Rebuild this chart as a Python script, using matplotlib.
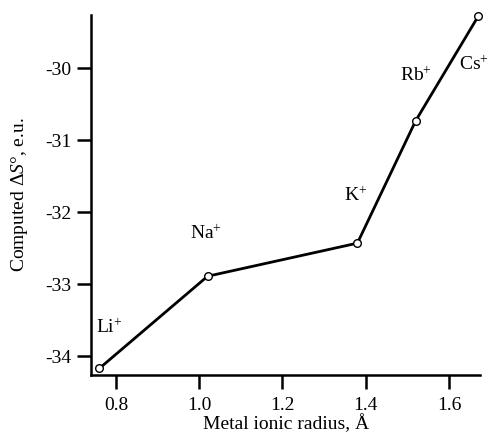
import matplotlib
matplotlib.use("Agg")
import matplotlib.pyplot as plt

plt.rcParams['font.family'] = ['Liberation Serif', 'DejaVu Serif']
plt.rcParams['mathtext.fontset'] = 'custom'
plt.rcParams['mathtext.rm'] = 'Liberation Serif'
plt.rcParams['mathtext.it'] = 'Liberation Serif:italic'

# ====== data ======
ions = ["Li", "Na", "K", "Rb", "Cs"]
radius = [0.76, 1.02, 1.38, 1.52, 1.67]
entropy = [-34.17, -32.89, -32.43, -30.73, -29.28]
# label anchor positions (data coords)
label_x = [0.784, 1.015, 1.375, 1.52, 1.66]
label_y = [-33.6, -32.3, -31.77, -30.1, -29.95]

fig = plt.figure(figsize=(4.92, 4.4), dpi=100)
ax = fig.add_axes([0.185, 0.148, 0.791, 0.818])

ax.plot(radius, entropy, color="black", lw=2.0, marker="o", ms=5.5,
        mfc="white", mec="black", mew=1.0, clip_on=False)

for name, lx, ly in zip(ions, label_x, label_y):
    ax.text(lx, ly, name + "$^{+}$", fontsize=14, ha="center", va="center")

ax.set_xlim(0.74, 1.675)
ax.set_ylim(-34.26, -29.26)
ax.set_xticks([0.8, 1.0, 1.2, 1.4, 1.6])
ax.set_xticklabels(["0.8", "1.0", "1.2", "1.4", "1.6"])
ax.set_yticks([-34, -33, -32, -31, -30])
ax.set_yticklabels(["-34", "-33", "-32", "-31", "-30"])

ax.spines["top"].set_visible(False)
ax.spines["right"].set_visible(False)
ax.spines["left"].set_linewidth(1.8)
ax.spines["bottom"].set_linewidth(1.8)
ax.tick_params(direction="out", length=10, width=1.8, labelsize=14)
ax.tick_params(axis="x", pad=6)
ax.tick_params(axis="y", pad=4)

ax.set_xlabel("Metal ionic radius, Å", fontsize=14, labelpad=0)
ax.set_ylabel("Computed Δ$\\mathit{S}$°, e.u.", fontsize=14, labelpad=11)

fig.savefig("out.png", dpi=100)
